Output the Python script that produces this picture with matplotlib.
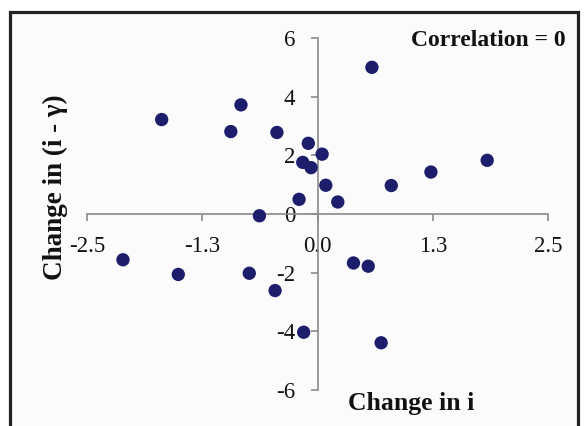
# -*- coding: utf-8 -*-
"""
Scatter of change in i against change in (i - gamma), axes crossing at zero
"""

import matplotlib
matplotlib.use('Agg')
from matplotlib import pyplot as plt
from matplotlib.patches import Rectangle

# =============================================================================
# DATA
# =============================================================================
change_i = [0.59, -1.69, -0.83, -0.94, -0.44, -0.10, 0.05, -0.16, -0.07, 0.09,
            -0.20, 0.22, -0.63, 0.80, 1.23, 1.84, -2.11, -1.51, -0.74, -0.46,
            0.39, 0.55, -0.15, 0.69]
change_i_gamma = [5.0, 3.22, 3.72, 2.81, 2.78, 2.41, 2.04, 1.76, 1.58, 0.98,
                  0.50, 0.41, -0.06, 0.97, 1.43, 1.83, -1.56, -2.06, -2.02, -2.61,
                  -1.67, -1.78, -4.03, -4.39]

x_ticks = [-2.5, -1.25, 0.0, 1.25, 2.5]
x_ticklabels = ['-2.5', '-1.3', '0.0', '1.3', '2.5']
y_ticks = [-6, -4, -2, 0, 2, 4, 6]
y_ticklabels = ['-6', '-4', '-2', '0', '2', '4', '6']

# =============================================================================
# PLOT
# =============================================================================
plt.rcParams['font.family'] = ['Liberation Serif', 'DejaVu Serif']

fig = plt.figure(figsize=(5.87, 4.26), dpi=100)
fig.patch.set_facecolor('white')

## outer frame
fig.patches.append(Rectangle((0.017, -0.02), 0.968, 0.992, transform=fig.transFigure,
                             facecolor='#fbfbfb', edgecolor='#222222', linewidth=2.3,
                             zorder=-5))

ax = fig.add_axes([0.1482, 0.0845, 0.7854, 0.8263])
ax.set_zorder(2)
ax.set_facecolor('none')

ax.scatter(change_i, change_i_gamma, s=92, color='#1c1d6b', edgecolors='none', zorder=3)

ax.set_xlim(-2.5, 2.5)
ax.set_ylim(-6, 6)

## axes crossing at origin
for side in ['top', 'right']:
    ax.spines[side].set_visible(False)
ax.spines['left'].set_position(('data', 0))
ax.spines['bottom'].set_position(('data', 0))
for side in ['left', 'bottom']:
    ax.spines[side].set_color('#8a8a8a')
    ax.spines[side].set_linewidth(1.2)

ax.set_xticks(x_ticks)
ax.set_xticklabels(x_ticklabels)
ax.set_yticks(y_ticks)
ax.set_yticklabels(y_ticklabels)
ax.tick_params(axis='x', direction='out', length=5, width=1.2, color='#8a8a8a',
               labelsize=16.5, pad=11, labelcolor='#111111')
ax.tick_params(axis='y', direction='out', length=5, width=1.2, color='#8a8a8a',
               labelsize=16.5, pad=11, labelcolor='#111111')

## labels
fig.text(0.094, 0.56, 'Change in (i - \u03b3)', rotation=90, ha='center', va='center',
         fontsize=19.5, fontweight='bold', color='#111111', zorder=5)
fig.text(0.593, 0.053, 'Change in i', ha='left', va='center',
         fontsize=18.5, fontweight='bold', color='#111111', zorder=5)
fig.text(0.963, 0.906, 'Correlation = 0', ha='right', va='center',
         fontsize=17, fontweight='bold', color='#111111', zorder=5)

plt.savefig('out.png', dpi=100)
